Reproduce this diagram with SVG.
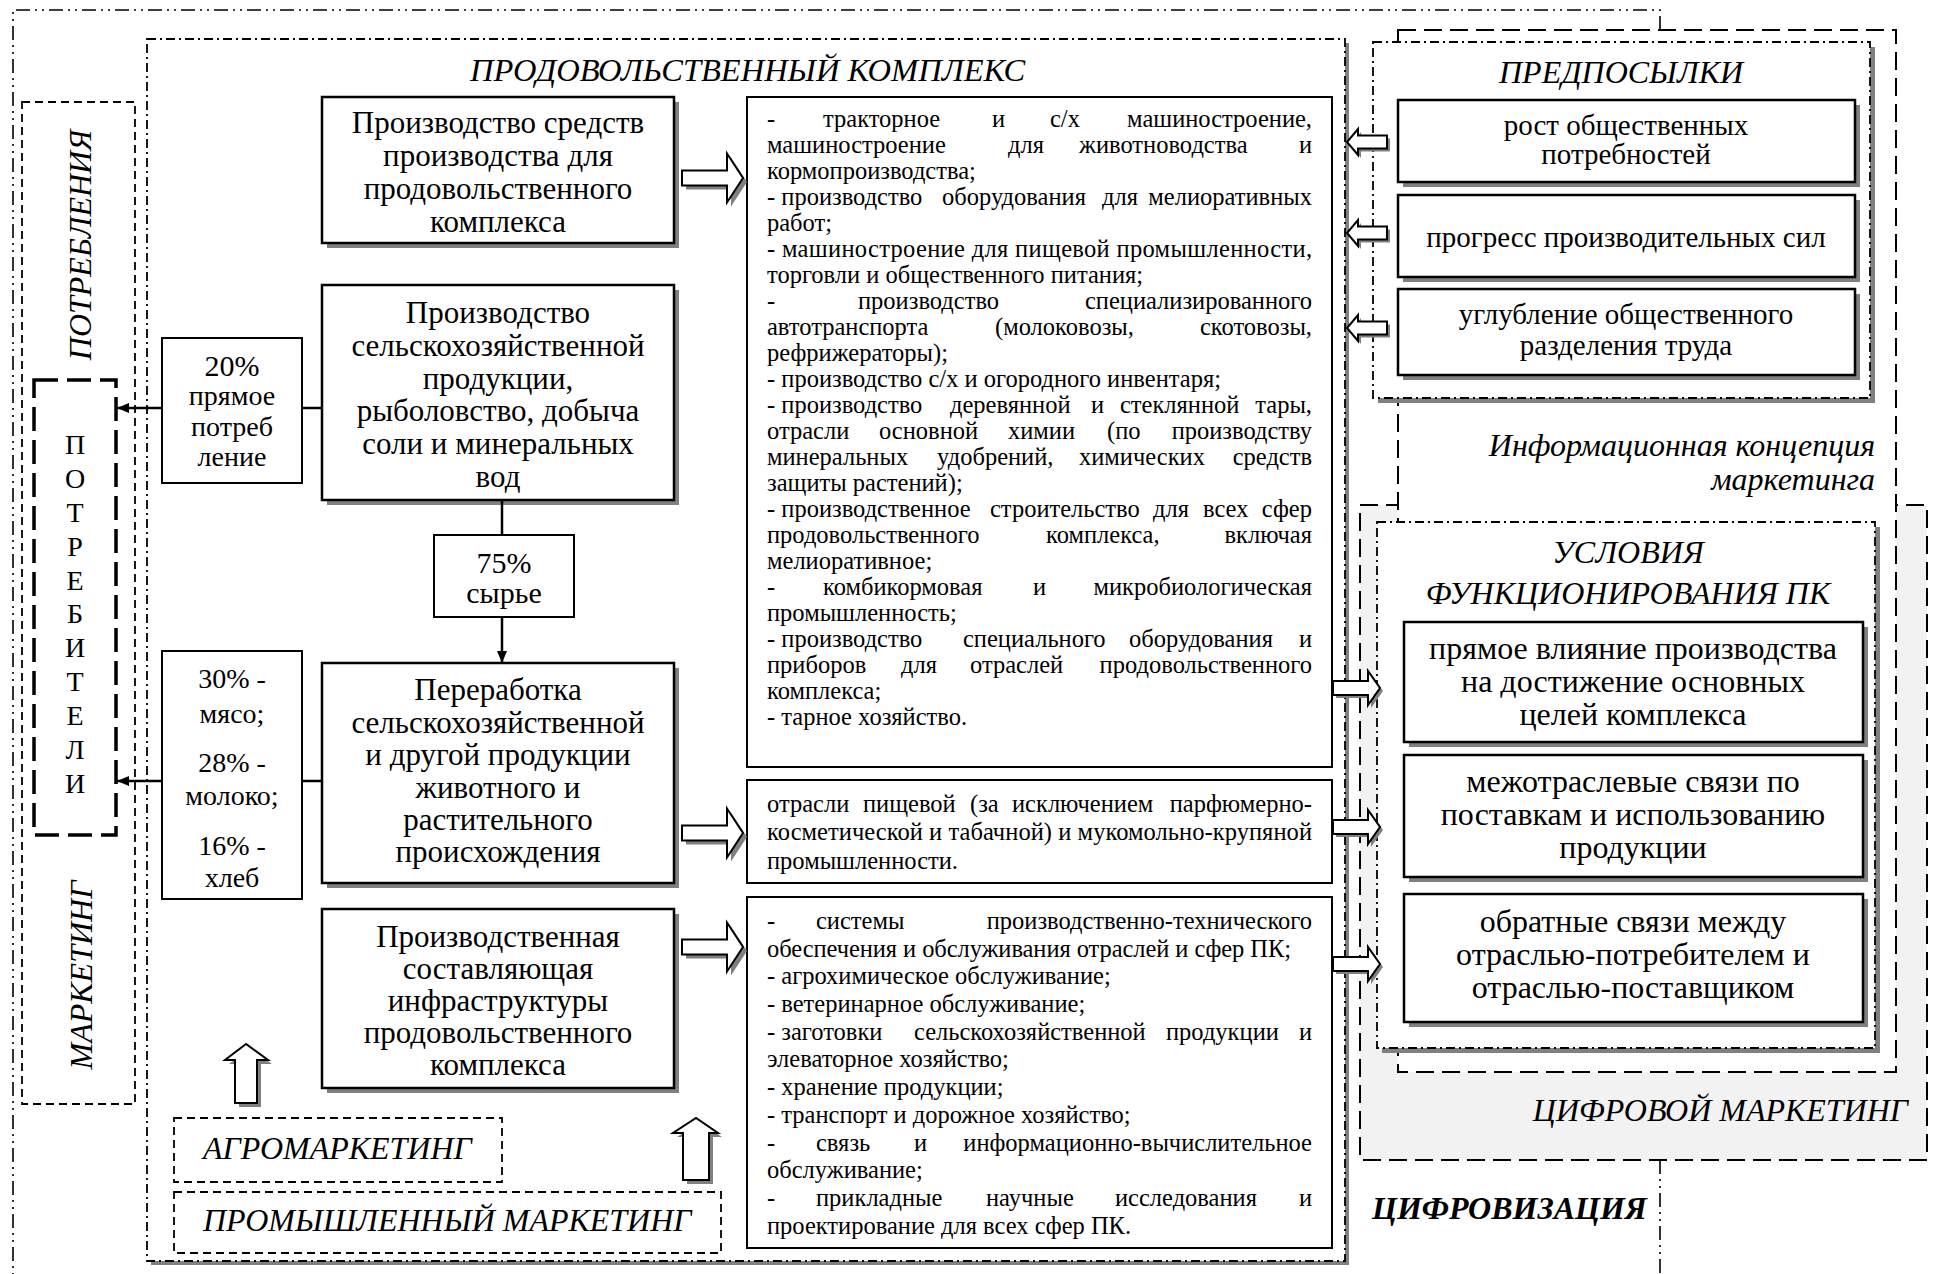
<svg xmlns="http://www.w3.org/2000/svg" width="1938" height="1274" viewBox="0 0 1938 1274" font-family="Liberation Serif, serif">
<style>
text{font-family:"Liberation Serif",serif;fill:#000}
.m{font-size:31px;text-anchor:middle}
.r{font-size:29px;text-anchor:middle}
.c{font-size:32px;text-anchor:middle}
.s{font-size:28px;text-anchor:middle}
.tx{font-size:24.5px}
.it{font-style:italic}
.bx{fill:#fff;stroke:#000;stroke-width:2.5}
.tb{fill:#fff;stroke:#000;stroke-width:2}
.sh{fill:#808080}
.dd{fill:none;stroke:#000;stroke-width:1.6;stroke-dasharray:14 5 2 5 2 5}
.dc{fill:#fff;stroke:#000;stroke-width:1.8;stroke-dasharray:9 4 2 4}
.ds{fill:none;stroke:#000;stroke-width:1.8;stroke-dasharray:8 5}
.dl{stroke:#000;stroke-width:2;stroke-dasharray:18 8}
.ba{fill:#fff;stroke:#000;stroke-width:2}
.ln{fill:none;stroke:#000;stroke-width:2.5}
</style>
<defs>
<marker id="ah" viewBox="0 0 12 10" refX="12" refY="5" markerWidth="12" markerHeight="10" markerUnits="userSpaceOnUse" orient="auto">
<path d="M0,0 L12,5 L0,10 Z" fill="#000"/>
</marker>
</defs>

<g id="digitalization">
<path class="dd" d="M1660,30 V10 H13 V1274 M1660,1160 V1274"/>
<text x="1372" y="1219" style="font-size:32px;font-weight:bold;font-style:italic">ЦИФРОВИЗАЦИЯ</text>
</g>

<g id="digital-marketing">
<rect x="1360" y="505" width="567" height="655" class="dl" fill="#f2f2f2"/>
<text x="1908" y="1121" class="it" text-anchor="end" style="font-size:32px">ЦИФРОВОЙ МАРКЕТИНГ</text>
</g>

<g id="info-concept">
<rect x="1398" y="30" width="498" height="1042" class="dl" fill="#fff"/>
<text x="1875" y="456" class="it" text-anchor="end" style="font-size:32px">Информационная концепция</text>
<text x="1875" y="490" class="it" text-anchor="end" style="font-size:32px">маркетинга</text>
</g>

<g id="prerequisites">
<rect x="1378" y="47" width="497" height="356" class="sh"/>
<rect x="1373" y="42" width="497" height="356" class="dc"/>
<text x="1621" y="83" class="it" text-anchor="middle" style="font-size:32px">ПРЕДПОСЫЛКИ</text>
</g>
<g id="pre-1">
<rect x="1403" y="105" width="457" height="82" class="sh"/>
<rect x="1398" y="100" width="457" height="82" class="bx"/>
<text class="r" x="1626" y="135">рост общественных</text>
<text class="r" x="1626" y="164">потребностей</text>
</g>
<g id="pre-2">
<rect x="1403" y="200" width="457" height="82" class="sh"/>
<rect x="1398" y="195" width="457" height="82" class="bx"/>
<text class="r" x="1626" y="247">прогресс производительных сил</text>
</g>
<g id="pre-3">
<rect x="1403" y="294" width="457" height="86" class="sh"/>
<rect x="1398" y="289" width="457" height="86" class="bx"/>
<text class="r" x="1626" y="324">углубление общественного</text>
<text class="r" x="1626" y="355">разделения труда</text>
</g>

<g id="conditions">
<rect x="1382" y="527" width="498" height="526" class="sh"/>
<rect x="1377" y="522" width="498" height="526" class="dc"/>
<text x="1628" y="563" class="it" text-anchor="middle" style="font-size:32px">УСЛОВИЯ</text>
<text x="1628" y="604" class="it" text-anchor="middle" style="font-size:32px">ФУНКЦИОНИРОВАНИЯ ПК</text>
</g>
<g id="cond-1">
<rect x="1409" y="627" width="459" height="120" class="sh"/>
<rect x="1404" y="622" width="459" height="120" class="bx"/>
<text class="c" x="1633" y="659">прямое влияние производства</text>
<text class="c" x="1633" y="692">на достижение основных</text>
<text class="c" x="1633" y="725">целей комплекса</text>
</g>
<g id="cond-2">
<rect x="1409" y="760" width="459" height="122" class="sh"/>
<rect x="1404" y="755" width="459" height="122" class="bx"/>
<text class="c" x="1633" y="792">межотраслевые связи по</text>
<text class="c" x="1633" y="825">поставкам и использованию</text>
<text class="c" x="1633" y="858">продукции</text>
</g>
<g id="cond-3">
<rect x="1409" y="899" width="459" height="128" class="sh"/>
<rect x="1404" y="894" width="459" height="128" class="bx"/>
<text class="c" x="1633" y="932">обратные связи между</text>
<text class="c" x="1633" y="965">отраслью-потребителем и</text>
<text class="c" x="1633" y="998">отраслью-поставщиком</text>
</g>

<g id="consumption-marketing">
<rect x="22" y="102" width="113" height="1002" class="ds"/>
<text class="it" transform="translate(91,245) rotate(-90)" text-anchor="middle" style="font-size:32px">ПОТРЕБЛЕНИЯ</text>
<text class="it" transform="translate(92,975) rotate(-90)" text-anchor="middle" style="font-size:32px">МАРКЕТИНГ</text>
</g>

<g id="consumers">
<rect x="34" y="380" width="82" height="455" fill="none" stroke="#000" stroke-width="3.5" stroke-dasharray="24 9"/>
<text class="s" x="75" y="454">П</text>
<text class="s" x="75" y="488">О</text>
<text class="s" x="75" y="522">Т</text>
<text class="s" x="75" y="556">Р</text>
<text class="s" x="75" y="590">Е</text>
<text class="s" x="75" y="623">Б</text>
<text class="s" x="75" y="657">И</text>
<text class="s" x="75" y="691">Т</text>
<text class="s" x="75" y="725">Е</text>
<text class="s" x="75" y="759">Л</text>
<text class="s" x="75" y="793">И</text>
</g>

<g id="food-complex">
<rect x="151" y="43" width="1198" height="1222" class="sh"/>
<rect x="147" y="39" width="1198" height="1222" class="dc"/>
<text x="470" y="81" class="it" style="font-size:32.5px">ПРОДОВОЛЬСТВЕННЫЙ КОМПЛЕКС</text>
</g>

<g id="agromarketing">
<rect x="174" y="1118" width="328" height="64" class="ds"/>
<text x="203" y="1159" class="it" style="font-size:32px">АГРОМАРКЕТИНГ</text>
</g>
<g id="industrial-marketing">
<rect x="174" y="1192" width="547" height="61" class="ds"/>
<text x="203" y="1231" class="it" style="font-size:32px">ПРОМЫШЛЕННЫЙ МАРКЕТИНГ</text>
</g>

<g id="box-means">
<rect x="327" y="102" width="352" height="146" class="sh"/>
<rect x="322" y="97" width="352" height="146" class="bx"/>
<text class="m" x="498" y="133">Производство средств</text>
<text class="m" x="498" y="166">производства для</text>
<text class="m" x="498" y="199">продовольственного</text>
<text class="m" x="498" y="232">комплекса</text>
</g>
<g id="box-agri">
<rect x="327" y="290" width="352" height="215" class="sh"/>
<rect x="322" y="285" width="352" height="215" class="bx"/>
<text class="m" x="498" y="323">Производство</text>
<text class="m" x="498" y="356">сельскохозяйственной</text>
<text class="m" x="498" y="389">продукции,</text>
<text class="m" x="498" y="421">рыболовство, добыча</text>
<text class="m" x="498" y="454">соли и минеральных</text>
<text class="m" x="498" y="487">вод</text>
</g>
<g id="box-20">
<rect x="162" y="338" width="140" height="145" class="tb"/>
<text class="s" x="232" y="376" style="font-size:30px">20%</text>
<text class="s" x="232" y="405">прямое</text>
<text class="s" x="232" y="436">потреб</text>
<text class="s" x="232" y="466">ление</text>
</g>
<g id="box-75">
<rect x="434" y="535" width="140" height="82" class="tb"/>
<text class="s" x="504" y="573" style="font-size:30px">75%</text>
<text class="s" x="504" y="603" style="font-size:30px">сырье</text>
</g>
<g id="box-processing">
<rect x="327" y="668" width="352" height="220" class="sh"/>
<rect x="322" y="663" width="352" height="220" class="bx"/>
<text class="m" x="498" y="700">Переработка</text>
<text class="m" x="498" y="733">сельскохозяйственной</text>
<text class="m" x="498" y="765">и другой продукции</text>
<text class="m" x="498" y="798">животного и</text>
<text class="m" x="498" y="830">растительного</text>
<text class="m" x="498" y="862">происхождения</text>
</g>
<g id="box-30">
<rect x="162" y="651" width="140" height="248" class="tb"/>
<text class="s" x="232" y="688">30% -</text>
<text class="s" x="232" y="723">мясо;</text>
<text class="s" x="232" y="772">28% -</text>
<text class="s" x="232" y="805">молоко;</text>
<text class="s" x="232" y="855">16% -</text>
<text class="s" x="232" y="887">хлеб</text>
</g>
<g id="box-infra">
<rect x="327" y="914" width="352" height="179" class="sh"/>
<rect x="322" y="909" width="352" height="179" class="bx"/>
<text class="m" x="498" y="947">Производственная</text>
<text class="m" x="498" y="979">составляющая</text>
<text class="m" x="498" y="1011">инфраструктуры</text>
<text class="m" x="498" y="1043">продовольственного</text>
<text class="m" x="498" y="1075">комплекса</text>
</g>

<g id="list-means">
<rect x="747" y="97" width="585" height="670" class="tb"/>
<g class="tx">
<text class="tx" y="127"><tspan x="767">-</tspan><tspan x="823">тракторное</tspan><tspan x="992">и</tspan><tspan x="1050">с/х</tspan><tspan x="1312" text-anchor="end">машиностроение,</tspan></text>
<text class="tx" y="153"><tspan x="767">машиностроение</tspan><tspan x="1008">для</tspan><tspan x="1079">животноводства</tspan><tspan x="1312" text-anchor="end">и</tspan></text>
<text class="tx" x="767" y="179">кормопроизводства;</text>
<text class="tx" y="205"><tspan x="767">- производство</tspan><tspan x="942">оборудования</tspan><tspan x="1102">для</tspan><tspan x="1312" text-anchor="end">мелиоративных</tspan></text>
<text class="tx" x="767" y="231">работ;</text>
<text class="tx" x="767" y="257" textLength="545" lengthAdjust="spacing">- машиностроение для пищевой промышленности,</text>
<text class="tx" x="767" y="283">торговли и общественного питания;</text>
<text class="tx" y="309"><tspan x="767">-</tspan><tspan x="858">производство</tspan><tspan x="1312" text-anchor="end">специализированного</tspan></text>
<text class="tx" y="335"><tspan x="767">автотранспорта</tspan><tspan x="995">(молоковозы,</tspan><tspan x="1312" text-anchor="end">скотовозы,</tspan></text>
<text class="tx" x="767" y="361">рефрижераторы);</text>
<text class="tx" x="767" y="387">- производство с/х и огородного инвентаря;</text>
<text class="tx" y="413"><tspan x="767">- производство</tspan><tspan x="950">деревянной</tspan><tspan x="1091">и</tspan><tspan x="1120">стеклянной</tspan><tspan x="1312" text-anchor="end">тары,</tspan></text>
<text class="tx" y="439"><tspan x="767">отрасли</tspan><tspan x="879">основной</tspan><tspan x="1008">химии</tspan><tspan x="1107">(по</tspan><tspan x="1312" text-anchor="end">производству</tspan></text>
<text class="tx" y="465"><tspan x="767">минеральных</tspan><tspan x="937">удобрений,</tspan><tspan x="1079">химических</tspan><tspan x="1312" text-anchor="end">средств</tspan></text>
<text class="tx" x="767" y="491">защиты растений);</text>
<text class="tx" y="517"><tspan x="767">- производственное</tspan><tspan x="990">строительство</tspan><tspan x="1153">для</tspan><tspan x="1203">всех</tspan><tspan x="1312" text-anchor="end">сфер</tspan></text>
<text class="tx" y="543"><tspan x="767">продовольственного</tspan><tspan x="1046">комплекса,</tspan><tspan x="1312" text-anchor="end">включая</tspan></text>
<text class="tx" x="767" y="569">мелиоративное;</text>
<text class="tx" y="595"><tspan x="767">-</tspan><tspan x="823">комбикормовая</tspan><tspan x="1033">и</tspan><tspan x="1312" text-anchor="end">микробиологическая</tspan></text>
<text class="tx" x="767" y="621">промышленность;</text>
<text class="tx" y="647"><tspan x="767">- производство</tspan><tspan x="963">специального</tspan><tspan x="1129">оборудования</tspan><tspan x="1312" text-anchor="end">и</tspan></text>
<text class="tx" y="673"><tspan x="767">приборов</tspan><tspan x="901">для</tspan><tspan x="970">отраслей</tspan><tspan x="1312" text-anchor="end">продовольственного</tspan></text>
<text class="tx" x="767" y="699">комплекса;</text>
<text class="tx" x="767" y="725">- тарное хозяйство.</text>
</g>
</g>

<g id="list-food">
<rect x="747" y="780" width="585" height="103" class="tb"/>
<g class="tx">
<text class="tx" y="812"><tspan x="767">отрасли</tspan><tspan x="863">пищевой</tspan><tspan x="970">(за</tspan><tspan x="1012">исключением</tspan><tspan x="1312" text-anchor="end">парфюмерно-</tspan></text>
<text class="tx" x="767" y="840" textLength="545" lengthAdjust="spacing">косметической и табачной) и мукомольно-крупяной</text>
<text class="tx" x="767" y="869">промышленности.</text>
</g>
</g>

<g id="list-infra">
<rect x="747" y="897" width="585" height="351" class="tb"/>
<g class="tx">
<text class="tx" y="929"><tspan x="767">-</tspan><tspan x="816">системы</tspan><tspan x="1312" text-anchor="end">производственно-технического</tspan></text>
<text class="tx" x="767" y="957" textLength="524" lengthAdjust="spacing">обеспечения и обслуживания отраслей и сфер ПК;</text>
<text class="tx" x="767" y="984">- агрохимическое обслуживание;</text>
<text class="tx" x="767" y="1012">- ветеринарное обслуживание;</text>
<text class="tx" y="1040"><tspan x="767">- заготовки</tspan><tspan x="914">сельскохозяйственной</tspan><tspan x="1166">продукции</tspan><tspan x="1312" text-anchor="end">и</tspan></text>
<text class="tx" x="767" y="1067">элеваторное хозяйство;</text>
<text class="tx" x="767" y="1095">- хранение продукции;</text>
<text class="tx" x="767" y="1123">- транспорт и дорожное хозяйство;</text>
<text class="tx" y="1151"><tspan x="767">-</tspan><tspan x="816">связь</tspan><tspan x="914">и</tspan><tspan x="1312" text-anchor="end">информационно-вычислительное</tspan></text>
<text class="tx" x="767" y="1178">обслуживание;</text>
<text class="tx" y="1206"><tspan x="767">-</tspan><tspan x="816">прикладные</tspan><tspan x="986">научные</tspan><tspan x="1115">исследования</tspan><tspan x="1312" text-anchor="end">и</tspan></text>
<text class="tx" x="767" y="1234">проектирование для всех сфер ПК.</text>
</g>
</g>

<g id="connectors">
<line class="ln" x1="322" y1="408" x2="302" y2="408"/>
<line class="ln" x1="162" y1="408" x2="117" y2="408" marker-end="url(#ah)"/>
<line class="ln" x1="322" y1="781" x2="302" y2="781"/>
<line class="ln" x1="162" y1="781" x2="117" y2="781" marker-end="url(#ah)"/>
<line class="ln" x1="502" y1="500" x2="502" y2="535"/>
<line class="ln" x1="502" y1="617" x2="502" y2="663" marker-end="url(#ah)"/>
<g id="block-arrows">
<path class="sh" transform="translate(4,4)" d="M682,170.5 H727 V153.5 L743,178 L727,202.5 V185.5 H682 Z"/>
<path class="ba" d="M682,170.5 H727 V153.5 L743,178 L727,202.5 V185.5 H682 Z"/>
<path class="sh" transform="translate(4,4)" d="M682,825.5 H727 V808.5 L743,833 L727,857.5 V840.5 H682 Z"/>
<path class="ba" d="M682,825.5 H727 V808.5 L743,833 L727,857.5 V840.5 H682 Z"/>
<path class="sh" transform="translate(4,4)" d="M682,939.5 H727 V922.5 L743,947 L727,971.5 V954.5 H682 Z"/>
<path class="ba" d="M682,939.5 H727 V922.5 L743,947 L727,971.5 V954.5 H682 Z"/>
<path class="sh" transform="translate(3,3)" d="M1387,135.5 H1358 V129 L1347,142 L1358,155 V148.5 H1387 Z"/>
<path class="ba" d="M1387,135.5 H1358 V129 L1347,142 L1358,155 V148.5 H1387 Z"/>
<path class="sh" transform="translate(3,3)" d="M1387,226.5 H1358 V220 L1347,233 L1358,246 V239.5 H1387 Z"/>
<path class="ba" d="M1387,226.5 H1358 V220 L1347,233 L1358,246 V239.5 H1387 Z"/>
<path class="sh" transform="translate(3,3)" d="M1387,321.5 H1358 V315 L1347,328 L1358,341 V334.5 H1387 Z"/>
<path class="ba" d="M1387,321.5 H1358 V315 L1347,328 L1358,341 V334.5 H1387 Z"/>
<path class="sh" transform="translate(3,3)" d="M1333,681 H1368 V671 L1380,688 L1368,705 V695 H1333 Z"/>
<path class="ba" d="M1333,681 H1368 V671 L1380,688 L1368,705 V695 H1333 Z"/>
<path class="sh" transform="translate(3,3)" d="M1333,820 H1368 V810 L1380,827 L1368,844 V834 H1333 Z"/>
<path class="ba" d="M1333,820 H1368 V810 L1380,827 L1368,844 V834 H1333 Z"/>
<path class="sh" transform="translate(3,3)" d="M1333,957 H1368 V947 L1380,964 L1368,981 V971 H1333 Z"/>
<path class="ba" d="M1333,957 H1368 V947 L1380,964 L1368,981 V971 H1333 Z"/>
<path class="sh" transform="translate(4,4)" d="M235,1103 V1060 H225 L246,1044 L268,1060 H257 V1103 Z"/>
<path class="ba" d="M235,1103 V1060 H225 L246,1044 L268,1060 H257 V1103 Z"/>
<path class="sh" transform="translate(4,4)" d="M683,1180 V1133 H673 L696,1118 L718,1133 H709 V1180 Z"/>
<path class="ba" d="M683,1180 V1133 H673 L696,1118 L718,1133 H709 V1180 Z"/>
</g>
</g>
</svg>
